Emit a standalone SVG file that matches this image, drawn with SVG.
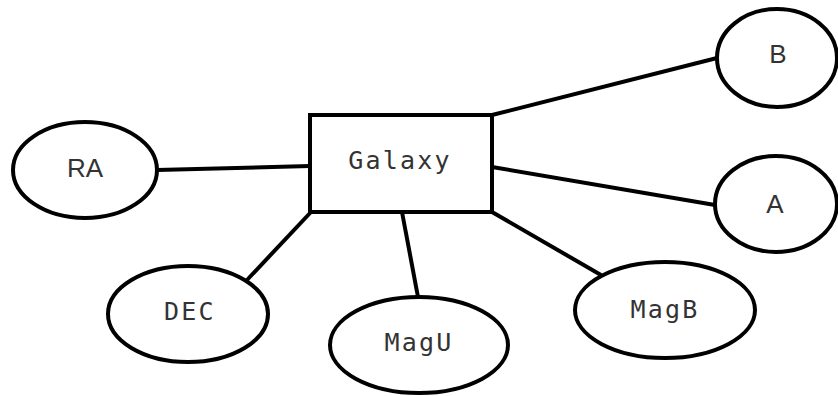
<svg xmlns="http://www.w3.org/2000/svg" width="838" height="396" viewBox="0 0 838 396">
  <style>
    .shape { fill: #ffffff; stroke: #000000; stroke-width: 4; }
    .edge { stroke: #000000; stroke-width: 4; fill: none; stroke-linecap: butt; }
    .mono { font-family: "DejaVu Sans Mono", "Liberation Mono", monospace; font-size: 25px; letter-spacing: 2.2px; fill: #333333; text-anchor: middle; }
    .sans { font-family: "Liberation Sans", Arial, sans-serif; font-size: 26px; fill: #333333; text-anchor: middle; }
  </style>
  <rect width="838" height="396" fill="#ffffff"/>

  <!-- connectors from the entity to its attributes -->
  <g id="edges">
    <line class="edge" x1="157" y1="170" x2="310" y2="166"/>
    <line class="edge" x1="492" y1="115" x2="717" y2="58"/>
    <line class="edge" x1="492" y1="167" x2="715" y2="205"/>
    <line class="edge" x1="311" y1="212" x2="247" y2="280"/>
    <line class="edge" x1="402" y1="212" x2="418" y2="297"/>
    <line class="edge" x1="492" y1="212" x2="601" y2="275"/>
  </g>

  <g id="galaxy">
    <rect class="shape" x="310" y="115" width="182" height="97"/>
    <text class="mono" x="400" y="169">Galaxy</text>
  </g>

  <g id="ra">
    <ellipse class="shape" cx="85" cy="170" rx="72" ry="48"/>
    <text class="sans" x="85" y="177">RA</text>
  </g>

  <g id="b">
    <ellipse class="shape" cx="777" cy="58" rx="60" ry="49"/>
    <text class="sans" x="778" y="63">B</text>
  </g>

  <g id="a">
    <ellipse class="shape" cx="776" cy="204" rx="61" ry="48"/>
    <text class="sans" x="775" y="213">A</text>
  </g>

  <g id="dec">
    <ellipse class="shape" cx="188" cy="314" rx="80" ry="48"/>
    <text class="mono" x="190" y="320">DEC</text>
  </g>

  <g id="magu">
    <ellipse class="shape" cx="419" cy="345" rx="89" ry="48"/>
    <text class="mono" x="419" y="351">MagU</text>
  </g>

  <g id="magb">
    <ellipse class="shape" cx="665" cy="310" rx="90" ry="48"/>
    <text class="mono" x="665" y="318">MagB</text>
  </g>
</svg>
